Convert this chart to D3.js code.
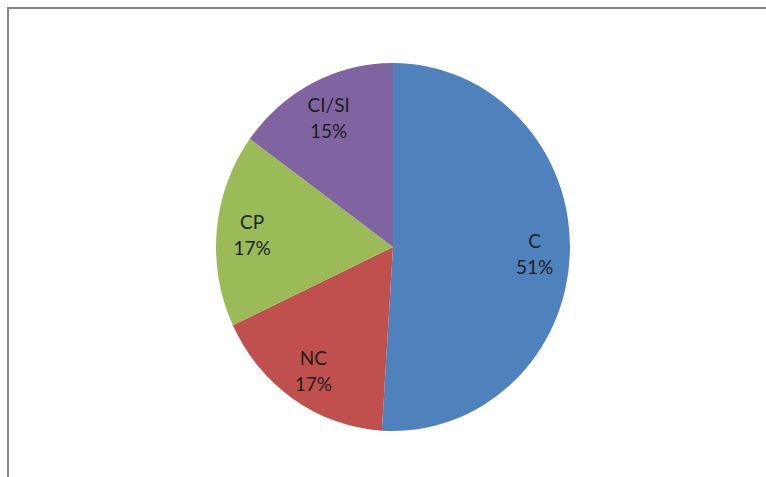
<!DOCTYPE html>
<html>
<head>
<meta charset="utf-8">
<script src="https://cdn.jsdelivr.net/npm/d3@7"></script>
<style>
  html, body { margin: 0; padding: 0; background: #fff; }
  svg { display: block; }
</style>
</head>
<body>
<svg id="chart" width="766" height="477"></svg>
<script>
const categories = ["C", "NC", "CP", "CI/SI"];
const values = [51, 17, 17, 15];
const colors = ["#4F81BD", "#C0504D", "#9BBB59", "#8064A2"];

const W = 766, H = 477;
const cx = 393, cy = 247, rx = 177, ry = 184;

const svg = d3.select("#chart");

// chart frame (partially cropped at right/bottom)
svg.append("rect")
  .attr("x", 8).attr("y", 8)
  .attr("width", W + 20).attr("height", H + 20)
  .attr("fill", "#fff")
  .attr("stroke", "#858585")
  .attr("stroke-width", 2);

const data = categories.map((c, i) => ({ cat: c, value: values[i], color: colors[i] }));

const pie = d3.pie().value(d => d.value).sort(null);
const arcs = pie(data);
const arc = d3.arc().innerRadius(0).outerRadius(rx);

// ellipse: draw in a circle of radius rx, scale y
const g = svg.append("g")
  .attr("transform", `translate(${cx},${cy}) scale(1,${ry / rx})`);

g.selectAll("path")
  .data(arcs)
  .enter().append("path")
  .attr("d", arc)
  .attr("fill", d => d.data.color)
  .attr("stroke", "none");

// labels
const total = d3.sum(values);
const labelR = 0.8;
const lg = svg.append("g").attr("transform", `translate(${cx},${cy})`);
arcs.forEach(d => {
  const a = (d.startAngle + d.endAngle) / 2;
  const x = Math.sin(a) * rx * labelR;
  const y = -Math.cos(a) * ry * labelR;
  const t = lg.append("text")
    .attr("x", x).attr("y", y)
    .attr("text-anchor", "middle")
    .attr("font-family", "Lato, 'Open Sans', sans-serif")
    .attr("font-size", 19)
    .attr("fill", "#1e1e1e");
  t.append("tspan").attr("x", x).attr("dy", "-0.2em").text(d.data.cat);
  t.append("tspan").attr("x", x).attr("dy", 26)
    .text(Math.round(d.data.value / total * 100) + "%");
});
</script>
</body>
</html>
